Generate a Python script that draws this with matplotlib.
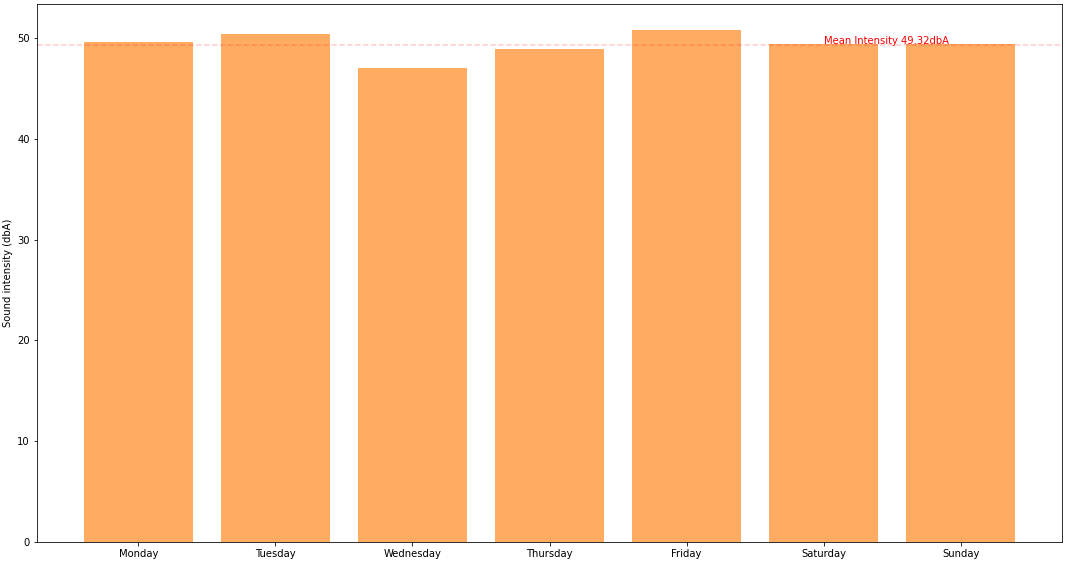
import matplotlib
matplotlib.use('Agg')
import matplotlib.pyplot as plt

days = ['Monday', 'Tuesday', 'Wednesday', 'Thursday', 'Friday', 'Saturday', 'Sunday']
intensity = [49.65, 50.45, 47.07, 48.96, 50.84, 49.38, 49.42]
mean_intensity = 49.32

fig = plt.figure(figsize=(1066 / 72, 562 / 72), dpi=72)
ax = fig.add_axes([37 / 1066, 1 - 542 / 562, (1062 - 37) / 1066, (542 - 4) / 562])

ax.bar(days, intensity, color='tab:orange', alpha=0.65)
ax.axhline(mean_intensity, color='red', linestyle='--', alpha=0.2, linewidth=1.5)
ax.text(5, mean_intensity + 0.1, f'Mean Intensity {mean_intensity}dbA', color='red', fontsize=10,
        va='baseline', ha='left')

ax.set_ylabel('Sound intensity (dbA)', fontsize=10)
ax.tick_params(labelsize=10)

fig.savefig('out.png', dpi=72)
